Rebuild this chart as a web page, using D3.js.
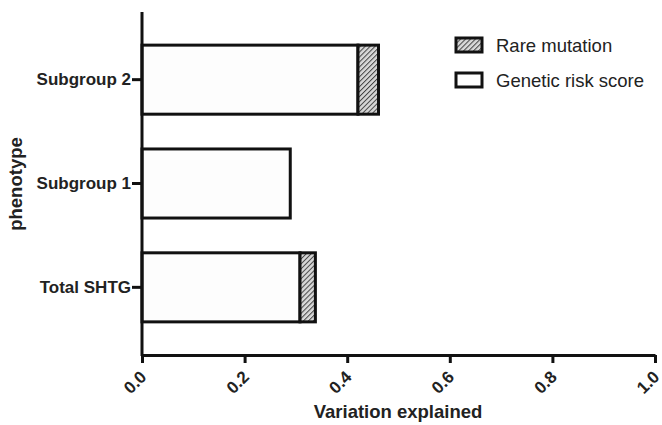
<!DOCTYPE html>
<html>
<head>
<meta charset="utf-8">
<script src="https://cdn.jsdelivr.net/npm/d3@7"></script>
<style>
  body { margin: 0; background: #fff; }
  text { font-family: "Liberation Sans", Arial, sans-serif; }
</style>
</head>
<body>
<div id="chart"></div>
<script>
// Data
var phenotypes = ['Subgroup 2', 'Subgroup 1', 'Total SHTG'];
var geneticRisk = [0.421, 0.289, 0.308];
var rareMutation = [0.04, 0.0, 0.03];
var xTicks = [0, 0.2, 0.4, 0.6, 0.8, 1.0];
var legendLabels = ['Rare mutation', 'Genetic risk score'];

var svgWidth = 662;
var svgHeight = 425;

var svg = d3.select('#chart')
    .append('svg')
    .attr('width', svgWidth)
    .attr('height', svgHeight);

// hatch pattern for rare mutation
var defs = svg.append('defs');
var pat = defs.append('pattern')
    .attr('id', 'hatch')
    .attr('patternUnits', 'userSpaceOnUse')
    .attr('width', 3.5)
    .attr('height', 3.5)
    .attr('patternTransform', 'rotate(45)');
pat.append('rect').attr('width', 3.5).attr('height', 3.5).attr('fill', '#d8d8d8');
pat.append('line')
    .attr('x1', 0).attr('y1', 0).attr('x2', 0).attr('y2', 3.5)
    .attr('stroke', '#444').attr('stroke-width', 2);

var xScale = d3.scaleLinear()
    .domain([0, 1])
    .range([142, 655]);

var yScale = d3.scaleBand()
    .domain(phenotypes)
    .range([28, 339])
    .paddingInner(0.335)
    .paddingOuter(0.165);

var data = phenotypes.map(function(p, i) {
    return { name: p, grs: geneticRisk[i], rare: rareMutation[i] };
});

// Bars: genetic risk score
svg.selectAll('.grs')
    .data(data)
    .enter()
    .append('rect')
    .attr('class', 'grs')
    .attr('x', xScale(0))
    .attr('y', d => yScale(d.name))
    .attr('width', d => xScale(d.grs) - xScale(0))
    .attr('height', yScale.bandwidth())
    .attr('fill', '#fdfdfd')
    .attr('stroke', '#111')
    .attr('stroke-width', 3);

// Bars: rare mutation stacked on top
svg.selectAll('.rare')
    .data(data.filter(d => d.rare > 0))
    .enter()
    .append('rect')
    .attr('class', 'rare')
    .attr('x', d => xScale(d.grs))
    .attr('y', d => yScale(d.name))
    .attr('width', d => xScale(d.grs + d.rare) - xScale(d.grs))
    .attr('height', yScale.bandwidth())
    .attr('fill', 'url(#hatch)')
    .attr('stroke', '#111')
    .attr('stroke-width', 3);

// X axis
var xAxis = d3.axisBottom(xScale)
    .tickValues(xTicks)
    .tickFormat(d3.format('.1f'))
    .tickSize(8)
    .tickSizeOuter(0);

var xg = svg.append('g')
    .attr('transform', 'translate(0, 355)')
    .call(xAxis);
xg.select('.domain').attr('stroke', '#111').attr('stroke-width', 3);
xg.selectAll('.tick line').attr('stroke', '#111').attr('stroke-width', 3);
xg.selectAll('.tick text')
    .attr('font-size', 17)
    .attr('font-family', '"Liberation Sans", Arial, sans-serif')
    .attr('font-weight', 'bold')
    .attr('fill', '#222')
    .attr('text-anchor', 'end')
    .attr('dy', 0)
    .attr('x', 0)
    .attr('y', 0)
    .attr('transform', 'translate(5, 23) rotate(-45)');

// Y axis
var yAxis = d3.axisLeft(yScale)
    .tickSize(10)
    .tickSizeOuter(0);

var yg = svg.append('g')
    .attr('transform', 'translate(142, 0)')
    .call(yAxis);
yg.select('.domain').remove();
yg.append('line')
    .attr('x1', 0).attr('x2', 0)
    .attr('y1', 12).attr('y2', 356)
    .attr('stroke', '#111').attr('stroke-width', 3);
yg.selectAll('.tick line').attr('stroke', '#111').attr('stroke-width', 3);
yg.selectAll('.tick text')
    .attr('font-size', 17)
    .attr('font-family', '"Liberation Sans", Arial, sans-serif')
    .attr('font-weight', 'bold')
    .attr('fill', '#222')
    .attr('x', -11);

// Axis titles
svg.append('text')
    .attr('x', 398)
    .attr('y', 418)
    .attr('text-anchor', 'middle')
    .attr('font-size', 18.5)
    .attr('font-weight', 'bold')
    .attr('fill', '#222')
    .text('Variation explained');

svg.append('text')
    .attr('transform', 'translate(22, 184) rotate(-90)')
    .attr('text-anchor', 'middle')
    .attr('font-size', 18.5)
    .attr('font-weight', 'bold')
    .attr('fill', '#222')
    .text('phenotype');

// Legend
var legend = svg.append('g')
    .attr('transform', 'translate(456, 38)');

var legendItems = legend.selectAll('g')
    .data(legendLabels)
    .enter()
    .append('g')
    .attr('transform', (d, i) => `translate(0, ${i * 35})`);

legendItems.append('rect')
    .attr('width', 26)
    .attr('height', 14)
    .attr('fill', (d, i) => i === 0 ? 'url(#hatch)' : '#fdfdfd')
    .attr('stroke', '#111')
    .attr('stroke-width', 3);

legendItems.append('text')
    .attr('x', 40)
    .attr('y', 7)
    .attr('dy', '0.36em')
    .attr('font-size', 18.5)
    .attr('fill', '#222')
    .text(d => d);
</script>
</body>
</html>
